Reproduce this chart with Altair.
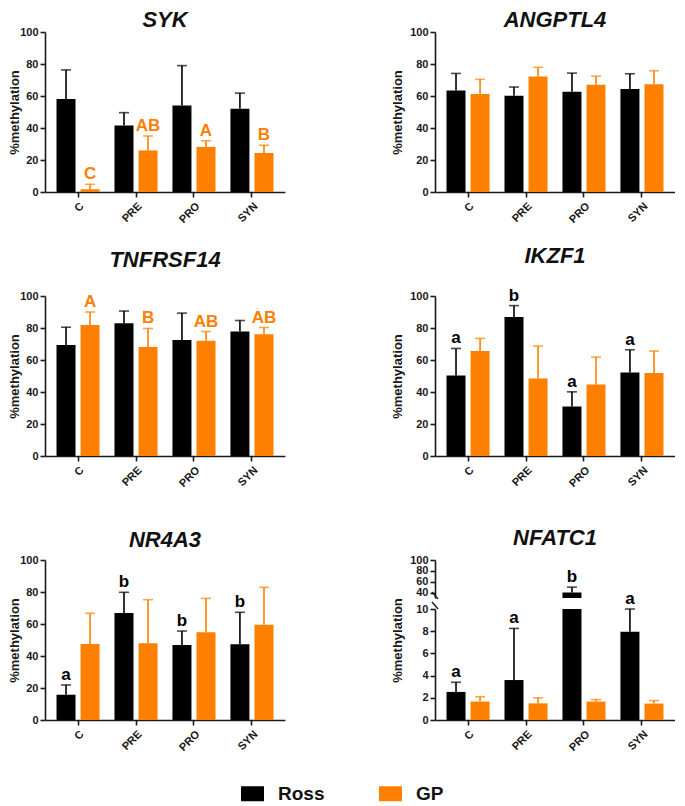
import altair as alt
import pandas as pd

categories = ["C", "PRE", "PRO", "SYN"]
groups = ["Ross", "GP"]
group_colors = ["#000000", "#FF8000"]

# Means and tops of the error bars (mean + SD)
syk_ross = [58.2, 41.6, 54.0, 52.1]
syk_ross_top = [76.3, 49.6, 79.0, 61.8]
syk_gp = [1.7, 26.0, 28.2, 24.4]
syk_gp_top = [4.8, 35.0, 32.0, 29.2]
syk_letters_ross = ["", "", "", ""]
syk_letters_gp = ["C", "AB", "A", "B"]

angptl4_ross = [63.5, 60.1, 62.6, 64.3]
angptl4_ross_top = [74.1, 65.6, 74.3, 73.9]
angptl4_gp = [61.2, 72.2, 67.0, 67.4]
angptl4_gp_top = [70.4, 77.9, 72.4, 75.8]
angptl4_letters_ross = ["", "", "", ""]
angptl4_letters_gp = ["", "", "", ""]

tnfrsf14_ross = [69.4, 83.0, 72.5, 77.8]
tnfrsf14_ross_top = [80.5, 90.6, 89.3, 84.7]
tnfrsf14_gp = [81.8, 68.1, 72.1, 76.1]
tnfrsf14_gp_top = [90.0, 79.7, 77.8, 80.3]
tnfrsf14_letters_ross = ["", "", "", ""]
tnfrsf14_letters_gp = ["A", "B", "AB", "AB"]

ikzf1_ross = [50.3, 86.8, 30.9, 52.2]
ikzf1_ross_top = [67.2, 94.0, 40.1, 66.4]
ikzf1_gp = [65.6, 48.4, 44.7, 51.8]
ikzf1_gp_top = [73.5, 68.7, 61.8, 65.6]
ikzf1_letters_ross = ["a", "b", "a", "a"]
ikzf1_letters_gp = ["", "", "", ""]

nr4a3_ross = [15.8, 66.9, 46.9, 47.3]
nr4a3_ross_top = [21.9, 79.8, 55.6, 67.3]
nr4a3_gp = [47.5, 47.9, 54.8, 59.6]
nr4a3_gp_top = [66.7, 75.2, 76.0, 82.9]
nr4a3_letters_ross = ["a", "b", "b", "b"]
nr4a3_letters_gp = ["", "", "", ""]

nfatc1_ross = [2.53, 3.6, 40.0, 7.95]
nfatc1_ross_top = [3.4, 8.25, 50.0, 10.0]
nfatc1_gp = [1.66, 1.5, 1.66, 1.48]
nfatc1_gp_top = [2.1, 2.0, 1.84, 1.75]
nfatc1_letters_ross = ["a", "a", "b", "a"]
nfatc1_letters_gp = ["", "", "", ""]

FONT = "Liberation Sans"
W = 240
H = 160
YT = "%methylation"


def make_df(ross, ross_top, gp, gp_top, lr, lg):
    rows = []
    for i, c in enumerate(categories):
        rows.append(dict(cat=c, group="Ross", mean=ross[i], top=ross_top[i],
                         letter=lr[i], col=group_colors[0]))
        rows.append(dict(cat=c, group="GP", mean=gp[i], top=gp_top[i],
                         letter=lg[i], col=group_colors[1]))
    return pd.DataFrame(rows)


legend_def = alt.Legend(
    orient="none", legendX=196, legendY=750, direction="horizontal", title=None,
    symbolType="M-1,-0.652H1V0.652H-1Z", symbolSize=529, symbolStrokeWidth=0,
    symbolOpacity=1, labelFont=FONT, labelFontSize=19, labelFontWeight="bold",
    labelColor="#111111", labelOffset=14, columnPadding=54,
)


def base_chart(df):
    return alt.Chart(df).encode(
        x=alt.X("cat:N", sort=categories, title=None,
                scale=alt.Scale(paddingInner=0, paddingOuter=0.07),
                axis=alt.Axis(labelAngle=-45, title=None, labelPadding=3)),
        xOffset=alt.XOffset("group:N", sort=groups,
                            scale=alt.Scale(paddingInner=0.21, paddingOuter=0.31)),
    )


def layers_for(df, yscale, yaxis, bar_filter=None, err_filter=None):
    base = base_chart(df)
    bars = base.mark_bar(opacity=1).encode(
        y=alt.Y("mean:Q", scale=yscale, axis=yaxis),
        color=alt.Color("group:N", scale=alt.Scale(domain=groups, range=group_colors),
                        legend=legend_def),
    )
    rules = base.mark_rule(strokeWidth=1.6).encode(
        y=alt.Y("mean:Q", scale=yscale, axis=yaxis), y2="top:Q",
        color=alt.Color("col:N", scale=None),
    )
    caps = base.mark_tick(thickness=1.6, size=10).encode(
        y=alt.Y("top:Q", scale=yscale, axis=yaxis),
        color=alt.Color("col:N", scale=None),
    )
    txt = base.mark_text(dy=-5, fontSize=17, fontWeight="bold", font=FONT,
                         baseline="alphabetic").encode(
        y=alt.Y("top:Q", scale=yscale, axis=yaxis),
        text="letter:N",
        color=alt.Color("col:N", scale=None),
    )
    if bar_filter is not None:
        bars = bars.transform_filter(bar_filter)
    if err_filter is not None:
        rules = rules.transform_filter(err_filter)
        caps = caps.transform_filter(err_filter)
        txt = txt.transform_filter(err_filter)
    return [bars, rules, caps, txt]


def title_of(text, offset):
    return alt.Title(text, fontSize=22, fontStyle="italic", fontWeight="bold",
                     font=FONT, anchor="middle", offset=offset, color="#111111")


def panel(df, title, title_offset, title_x):
    yscale = alt.Scale(domain=[0, 100], nice=False)
    yaxis = alt.Axis(values=[0, 20, 40, 60, 80, 100], title=YT, titlePadding=4, labelPadding=2,
                     titleX=title_x)
    return alt.layer(*layers_for(df, yscale, yaxis)).properties(
        width=W, height=H, title=title_of(title, title_offset))


syk = panel(make_df(syk_ross, syk_ross_top, syk_gp, syk_gp_top, syk_letters_ross, syk_letters_gp),
            "SYK", -6, -24)
angptl4 = panel(make_df(angptl4_ross, angptl4_ross_top, angptl4_gp, angptl4_gp_top,
                        angptl4_letters_ross, angptl4_letters_gp), "ANGPTL4", -6, -31)
tnfrsf14 = panel(make_df(tnfrsf14_ross, tnfrsf14_ross_top, tnfrsf14_gp, tnfrsf14_gp_top,
                         tnfrsf14_letters_ross, tnfrsf14_letters_gp), "TNFRSF14", 18, -24)
ikzf1 = panel(make_df(ikzf1_ross, ikzf1_ross_top, ikzf1_gp, ikzf1_gp_top,
                      ikzf1_letters_ross, ikzf1_letters_gp), "IKZF1", 19, -31)
nr4a3 = panel(make_df(nr4a3_ross, nr4a3_ross_top, nr4a3_gp, nr4a3_gp_top,
                      nr4a3_letters_ross, nr4a3_letters_gp), "NR4A3", 2, -24)

# NFATC1: broken y axis, lower segment 0-10, upper segment 30-100
nf_df = make_df(nfatc1_ross, nfatc1_ross_top, nfatc1_gp, nfatc1_gp_top,
                nfatc1_letters_ross, nfatc1_letters_gp)
UP_H = 38
LO_TOP = 49
lo_scale = alt.Scale(domain=[0, 10], range=[H, LO_TOP], nice=False, clamp=True)
lo_axis = alt.Axis(values=[0, 2, 4, 6, 8, 10], title=YT, titlePadding=4, labelPadding=2,
                   titleY=80, titleX=-31, orient="left")
up_scale = alt.Scale(domain=[30, 100], range=[UP_H, 0], nice=False, clamp=True)
up_axis = alt.Axis(values=[40, 60, 80, 100], title=None, labelPadding=2, orient="left",
                   labelOverlap=False)

brk = alt.Chart(nf_df.head(1)).mark_rule(strokeWidth=1.4, color="#1a1a1a")
brk_up = brk.encode(x=alt.value(-3), x2=alt.value(3), y=alt.value(UP_H - 6), y2=alt.value(UP_H + 1))
brk_lo = brk.encode(x=alt.value(-3), x2=alt.value(3), y=alt.value(LO_TOP - 7), y2=alt.value(LO_TOP))

lower = alt.layer(*layers_for(nf_df, lo_scale, lo_axis, err_filter="datum.top < 30"))
upper = alt.layer(*layers_for(nf_df, up_scale, up_axis, bar_filter="datum.mean >= 30",
                              err_filter="datum.top >= 30"))
nfatc1 = alt.layer(lower, upper, brk_up, brk_lo).resolve_scale(y="independent").properties(
    width=W, height=H, title=title_of("NFATC1", 4))

chart = alt.concat(
    syk, angptl4, tnfrsf14, ikzf1, nr4a3, nfatc1,
    columns=2, spacing=alt.RowColnumber(row=104, column=150), bounds="flush",
).properties(padding={"left": 0, "top": 1, "right": 0, "bottom": 0}).configure_axis(
    labelFont=FONT, labelFontWeight="bold", labelFontSize=11, labelColor="#1a1a1a",
    domainColor="#1a1a1a", domainWidth=1.6, tickColor="#1a1a1a", tickWidth=1.6, tickSize=5,
    titleFont=FONT, titleFontWeight="bold", titleFontSize=13, titleColor="#1a1a1a", grid=False,
).configure_legend(symbolOpacity=1).configure_view(stroke=None)

chart.save("out.html", embed_options={"renderer": "svg", "actions": False})
